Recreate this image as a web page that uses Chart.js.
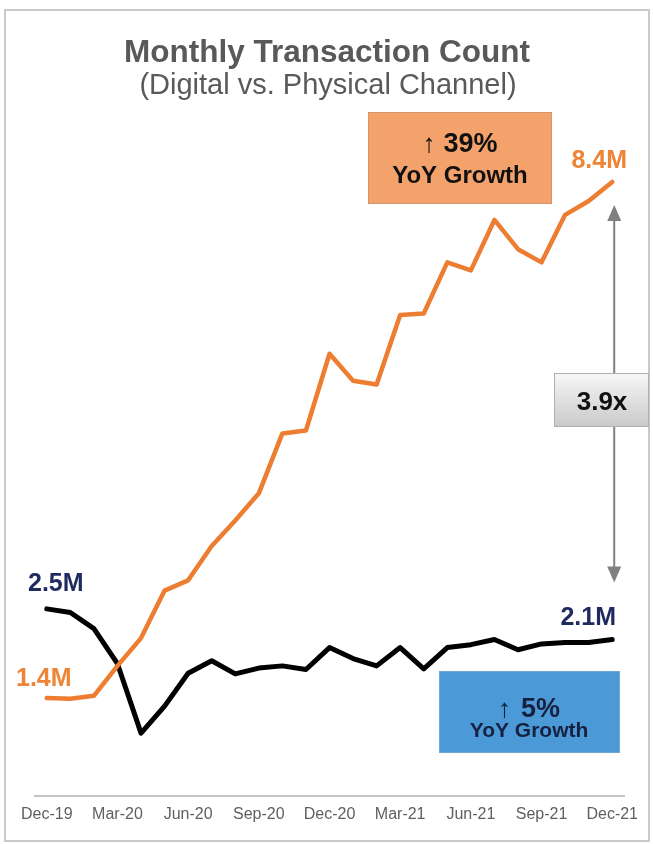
<!DOCTYPE html>
<html>
<head>
<meta charset="utf-8">
<script src="https://cdn.jsdelivr.net/npm/chart.js@4.4.1/dist/chart.umd.min.js"></script>
<style>
  html,body{margin:0;padding:0;background:#fff;}
  #c{display:block;}
</style>
</head>
<body>
<canvas id="c" width="653" height="844"></canvas>
<script>
// ---- Data ----
const months = ["Dec-19","Jan-20","Feb-20","Mar-20","Apr-20","May-20","Jun-20","Jul-20","Aug-20","Sep-20","Oct-20","Nov-20","Dec-20",
                "Jan-21","Feb-21","Mar-21","Apr-21","May-21","Jun-21","Jul-21","Aug-21","Sep-21","Oct-21","Nov-21","Dec-21"];
const digitalM  = [1.34,1.33,1.37,1.78,2.16,2.81,2.95,3.42,3.77,4.14,4.96,5.00,6.05,5.68,5.63,6.58,6.60,7.30,7.19,7.88,7.48,7.30,7.95,8.14,8.40];
const physicalM = [2.56,2.51,2.29,1.81,0.86,1.23,1.68,1.85,1.67,1.75,1.78,1.73,2.03,1.88,1.78,2.03,1.74,2.03,2.07,2.14,2.00,2.08,2.10,2.10,2.14];
const tickEvery = 3;
const titleText = "Monthly Transaction Count";
const subtitleText = "(Digital vs. Physical Channel)";
const digitalStartLabel = "1.4M", digitalEndLabel = "8.4M";
const physicalStartLabel = "2.5M", physicalEndLabel = "2.1M";
const digitalGrowth = ["↑", "39%", "YoY Growth"];
const physicalGrowth = ["↑", "5%", "YoY Growth"];
const multipleText = "3.9x";

const FONT = "'Liberation Sans', Arial, sans-serif";
const ORANGE = "#ED7D31", ORANGE_TXT = "#EE8435", NAVY = "#1F2A5E", GRAY_TXT = "#595959";

function groupText(ctx, cx, baseline, arrow, arrowFont, main, mainFont, gap, color){
  ctx.fillStyle = color;
  ctx.textBaseline = "alphabetic";
  ctx.textAlign = "left";
  ctx.font = arrowFont; const wa = ctx.measureText(arrow).width;
  ctx.font = mainFont;  const wm = ctx.measureText(main).width;
  const x0 = cx - (wa + gap + wm)/2;
  ctx.font = arrowFont; ctx.fillText(arrow, x0, baseline);
  ctx.font = mainFont;  ctx.fillText(main, x0 + wa + gap, baseline);
}

const framePlugin = {
  id: "frame",
  beforeDraw(chart){
    const ctx = chart.ctx;
    ctx.save();
    ctx.fillStyle = "#fff";
    ctx.fillRect(0,0,chart.width,chart.height);
    ctx.strokeStyle = "#c9c9c9";
    ctx.lineWidth = 2;
    ctx.strokeRect(5,10,644,831);
    // titles
    ctx.fillStyle = GRAY_TXT;
    ctx.textAlign = "center";
    ctx.textBaseline = "alphabetic";
    ctx.font = "bold 31.5px " + FONT;
    ctx.fillText(titleText, 327, 62);
    ctx.font = "29px " + FONT;
    ctx.fillText(subtitleText, 328, 94);
    ctx.restore();
  }
};

const annotPlugin = {
  id: "annot",
  afterDatasetsDraw(chart){
    const ctx = chart.ctx;
    const xs = chart.scales.x, ys = chart.scales.y;
    const last = months.length - 1;
    const xL = xs.getPixelForValue(0), xR = xs.getPixelForValue(last);
    ctx.save();

    // data labels
    ctx.textBaseline = "alphabetic";
    ctx.textAlign = "center";
    ctx.font = "bold 25px " + FONT;
    ctx.fillStyle = NAVY;
    ctx.fillText(physicalStartLabel, xL + 9, ys.getPixelForValue(physicalM[0]) - 18);
    ctx.fillText(physicalEndLabel, xR - 24, ys.getPixelForValue(physicalM[last]) - 15);
    ctx.fillStyle = ORANGE_TXT;
    ctx.fillText(digitalStartLabel, xL - 3, ys.getPixelForValue(digitalM[0]) - 12);
    ctx.fillText(digitalEndLabel, xR - 13, ys.getPixelForValue(digitalM[last]) - 14);

    // double arrow
    const ax = xR + 2;
    const aTop = ys.getPixelForValue(digitalM[last]) + 23;
    const aBot = ys.getPixelForValue(physicalM[last]) - 57;
    ctx.strokeStyle = "#808080"; ctx.fillStyle = "#808080"; ctx.lineWidth = 2;
    ctx.beginPath(); ctx.moveTo(ax, aTop + 12); ctx.lineTo(ax, aBot - 12); ctx.stroke();
    ctx.beginPath(); ctx.moveTo(ax, aTop); ctx.lineTo(ax - 7, aTop + 16); ctx.lineTo(ax + 7, aTop + 16); ctx.closePath(); ctx.fill();
    ctx.beginPath(); ctx.moveTo(ax, aBot); ctx.lineTo(ax - 7, aBot - 16); ctx.lineTo(ax + 7, aBot - 16); ctx.closePath(); ctx.fill();

    // 3.9x gray box
    const g = ctx.createLinearGradient(0,373,0,427);
    g.addColorStop(0,"#f7f7f7"); g.addColorStop(1,"#c9c9c9");
    ctx.fillStyle = g; ctx.fillRect(554,373,95,54);
    ctx.strokeStyle = "#b0b0b0"; ctx.lineWidth = 1; ctx.strokeRect(554.5,373.5,94,53);
    ctx.fillStyle = "#111"; ctx.textAlign = "center"; ctx.font = "bold 26px " + FONT;
    ctx.fillText(multipleText, 602, 410);

    // orange growth box
    ctx.fillStyle = "#F4A26B"; ctx.fillRect(368,112,184,92);
    ctx.strokeStyle = "#D7936A"; ctx.lineWidth = 1; ctx.strokeRect(368.5,112.5,183,91);
    groupText(ctx, 460, 152, digitalGrowth[0], "26px " + FONT, digitalGrowth[1], "bold 27px " + FONT, 8, "#111");
    ctx.textAlign = "center"; ctx.font = "bold 24px " + FONT; ctx.fillStyle = "#111";
    ctx.fillText(digitalGrowth[2], 460, 183);

    // blue growth box
    ctx.fillStyle = "#4B9AD7"; ctx.fillRect(439,671,181,82);
    ctx.strokeStyle = "#6FA6D2"; ctx.lineWidth = 1; ctx.strokeRect(439.5,671.5,180,81);
    groupText(ctx, 529, 717, physicalGrowth[0], "26px " + FONT, physicalGrowth[1], "bold 27px " + FONT, 10, "#16213F");
    ctx.textAlign = "center"; ctx.font = "bold 21px " + FONT; ctx.fillStyle = "#16213F";
    ctx.fillText(physicalGrowth[2], 529, 737);

    ctx.restore();
  }
};

new Chart(document.getElementById("c"), {
  type: "line",
  data: {
    labels: months,
    datasets: [
      { label: "Digital", data: digitalM, borderColor: ORANGE, borderWidth: 4.5, pointRadius: 0, tension: 0,
        borderJoinStyle: "round", borderCapStyle: "round", fill: false },
      { label: "Physical", data: physicalM, borderColor: "#000", borderWidth: 5, pointRadius: 0, tension: 0,
        borderJoinStyle: "round", borderCapStyle: "round", fill: false }
    ]
  },
  options: {
    responsive: false,
    devicePixelRatio: 1,
    animation: false,
    events: [],
    layout: { padding: { top: 160, left: 35, right: 29, bottom: 0 } },
    plugins: { legend: { display: false }, tooltip: { enabled: false }, title: { display: false } },
    scales: {
      x: {
        offset: true,
        afterFit(scale){ scale.height = 48; },
        grid: { display: false, drawTicks: false },
        border: { display: true, color: "#c4c4c4", width: 2 },
        ticks: {
          autoSkip: false, maxRotation: 0, minRotation: 0, padding: 9,
          color: "#5f5f5f", font: { family: FONT, size: 16 },
          callback: function(v, i){ return i % tickEvery === 0 ? months[i] : ""; }
        }
      },
      y: { display: false, min: 0, max: 8.7 }
    }
  },
  plugins: [framePlugin, annotPlugin]
});
</script>
</body>
</html>
